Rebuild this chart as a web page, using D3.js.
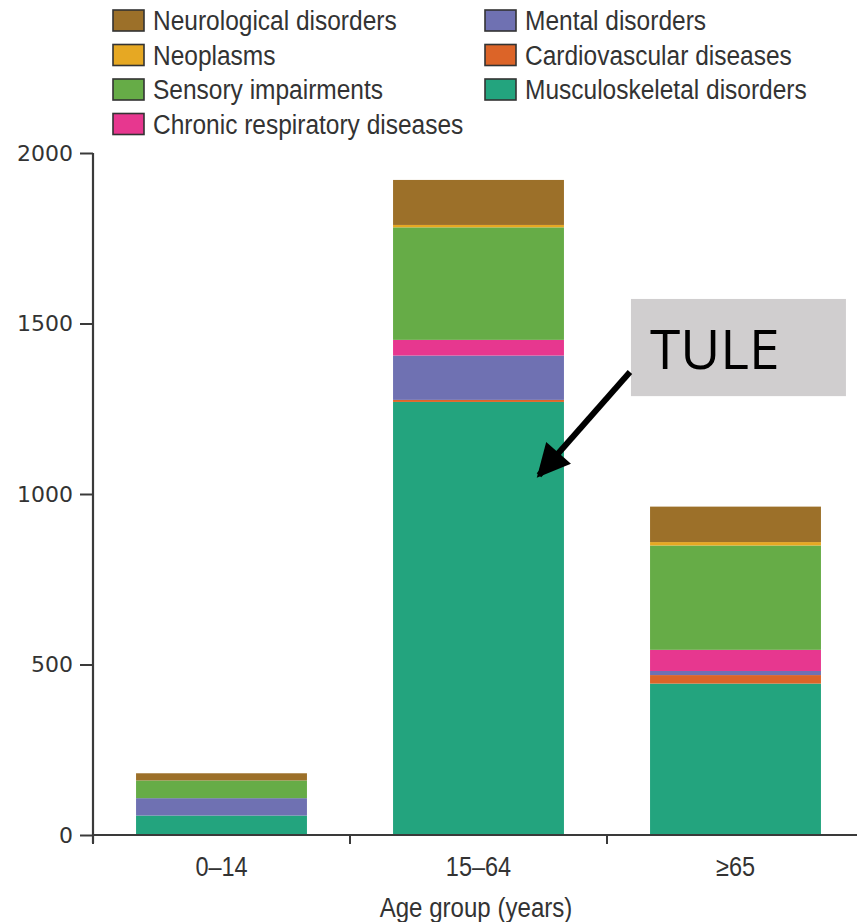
<!DOCTYPE html>
<html>
<head>
<meta charset="utf-8">
<script src="https://cdn.jsdelivr.net/npm/d3@7"></script>
<style>
  body { margin: 0; background: #fff; }
  svg { display: block; }
</style>
</head>
<body>
<script>
// age groups and causes, bottom of the stack first
const groups = ["0–14", "15–64", "≥65"];
const causes = ["Musculoskeletal disorders", "Cardiovascular diseases", "Mental disorders",
  "Chronic respiratory diseases", "Sensory impairments", "Neoplasms", "Neurological disorders"];
const colors = ["#23a47e", "#dc6428", "#6f71b2", "#e7378f", "#66ac47", "#e6a823", "#9c7029"];

// values per age group, same order as causes
const musculo   = [57, 1270, 444];
const cardio    = [0, 6, 25];
const mental    = [51, 130, 12];
const resp      = [0, 46, 62];
const sensory   = [52, 330, 306];
const neoplasms = [0, 7, 10];
const neuro     = [21, 132, 104];

const yTicks = [0, 500, 1000, 1500, 2000];

// legend layout order (two columns)
const legendCol1 = ["Neurological disorders", "Neoplasms", "Sensory impairments", "Chronic respiratory diseases"];
const legendCol2 = ["Mental disorders", "Cardiovascular diseases", "Musculoskeletal disorders"];

// annotation
const note = {label: "TULE", group: "15–64", value: 1055};

const width = 857, height = 922;
const narrow = "'Liberation Sans', Arial, sans-serif";
const series = [musculo, cardio, mental, resp, sensory, neoplasms, neuro];
const rows = groups.map((g, i) => {
  const r = {group: g};
  causes.forEach((c, j) => r[c] = series[j][i]);
  return r;
});

const svg = d3.select("body").append("svg")
    .attr("width", width)
    .attr("height", height);

// condensed text: the original uses a narrow face, squeeze a regular one
function squeezed(sel, tx, ty, k, size, anchor) {
  return sel.append("g")
      .attr("transform", `translate(${tx},${ty}) scale(${k},1)`)
    .append("text")
      .attr("text-anchor", anchor || "start")
      .attr("fill", "#333")
      .style("font", `${size}px ${narrow}`);
}

const x = d3.scaleBand()
    .domain(groups)
    .range([93, 864])
    .paddingInner(0.335)
    .paddingOuter(0.1675);

const y = d3.scaleLinear()
    .domain([0, 2000])
    .range([835, 153]);

const color = d3.scaleOrdinal().domain(causes).range(colors);

const stack = d3.stack().keys(causes)(rows);

svg.append("g")
  .selectAll("g")
  .data(stack)
  .join("g")
    .attr("fill", d => color(d.key))
  .selectAll("rect")
  .data(d => d)
  .join("rect")
    .attr("x", d => x(d.data.group))
    .attr("width", x.bandwidth())
    .attr("y", d => y(d[1]))
    .attr("height", d => y(d[0]) - y(d[1]));

// y axis
const yAxis = svg.append("g")
    .attr("transform", `translate(${x.range()[0]},0)`)
    .call(d3.axisLeft(y).tickValues(yTicks).tickFormat(d3.format("d"))
      .tickSize(13).tickPadding(7).tickSizeOuter(0));
yAxis.select(".domain").attr("stroke", "#3a3a3a").attr("stroke-width", 2.2)
    .attr("d", `M0,${y(2000)}V${y(0) + 8}`);
yAxis.selectAll(".tick line").attr("stroke", "#3a3a3a").attr("stroke-width", 2);
yAxis.selectAll(".tick text")
    .attr("fill", "#333")
    .style("font", "22px 'DejaVu Sans', Verdana, sans-serif");

// x axis: line across, ticks at the band boundaries
const xg = svg.append("g").attr("transform", `translate(0,${y(0)})`);
xg.append("line")
    .attr("x1", x.range()[0]).attr("x2", width)
    .attr("stroke", "#3a3a3a").attr("stroke-width", 2.2);
xg.selectAll(".bound")
  .data(d3.range(groups.length))
  .join("line")
    .attr("x1", i => x.range()[0] + i * x.step())
    .attr("x2", i => x.range()[0] + i * x.step())
    .attr("y1", 0).attr("y2", 9)
    .attr("stroke", "#3a3a3a").attr("stroke-width", 2);
groups.forEach(g => {
  squeezed(xg, x(g) + x.bandwidth() / 2, 41, 0.87, 27, "middle").text(g);
});

squeezed(svg, 476, 917, 0.86, 28, "middle").text("Age group (years)");

// legend
[[legendCol1, 113], [legendCol2, 485]].forEach(([items, lx]) => {
  items.forEach((d, i) => {
    const ly = 10 + i * 34.5;
    svg.append("rect")
        .attr("x", lx).attr("y", ly)
        .attr("width", 31).attr("height", 21)
        .attr("fill", color(d))
        .attr("stroke", "#333").attr("stroke-width", 1.6);
    squeezed(svg, lx + 40, ly + 20, 0.875, 28).text(d);
  });
});

// annotation box + arrow
const tipX = x(note.group) + x.bandwidth() - 25;
const tipY = y(note.value);
const bx = x(note.group) + x.bandwidth() + 67;
const by = y(1572);
svg.append("rect")
    .attr("x", bx).attr("y", by)
    .attr("width", 215).attr("height", y(1287) - by)
    .attr("fill", "#d0cecf");
svg.append("text")
    .attr("x", bx + 19).attr("y", by + 70)
    .attr("fill", "#000")
    .style("font", "55px 'Open Sans', sans-serif")
    .text(note.label);

svg.append("defs").append("marker")
    .attr("id", "head")
    .attr("viewBox", "0 0 10 10")
    .attr("refX", 9).attr("refY", 5)
    .attr("markerWidth", 6).attr("markerHeight", 5.5)
    .attr("orient", "auto")
  .append("path")
    .attr("d", "M0,0L10,5L0,10z")
    .attr("fill", "#000");
svg.append("line")
    .attr("x1", bx - 1).attr("y1", by + 73)
    .attr("x2", tipX).attr("y2", tipY)
    .attr("stroke", "#000").attr("stroke-width", 6)
    .attr("marker-end", "url(#head)");
</script>
</body>
</html>
